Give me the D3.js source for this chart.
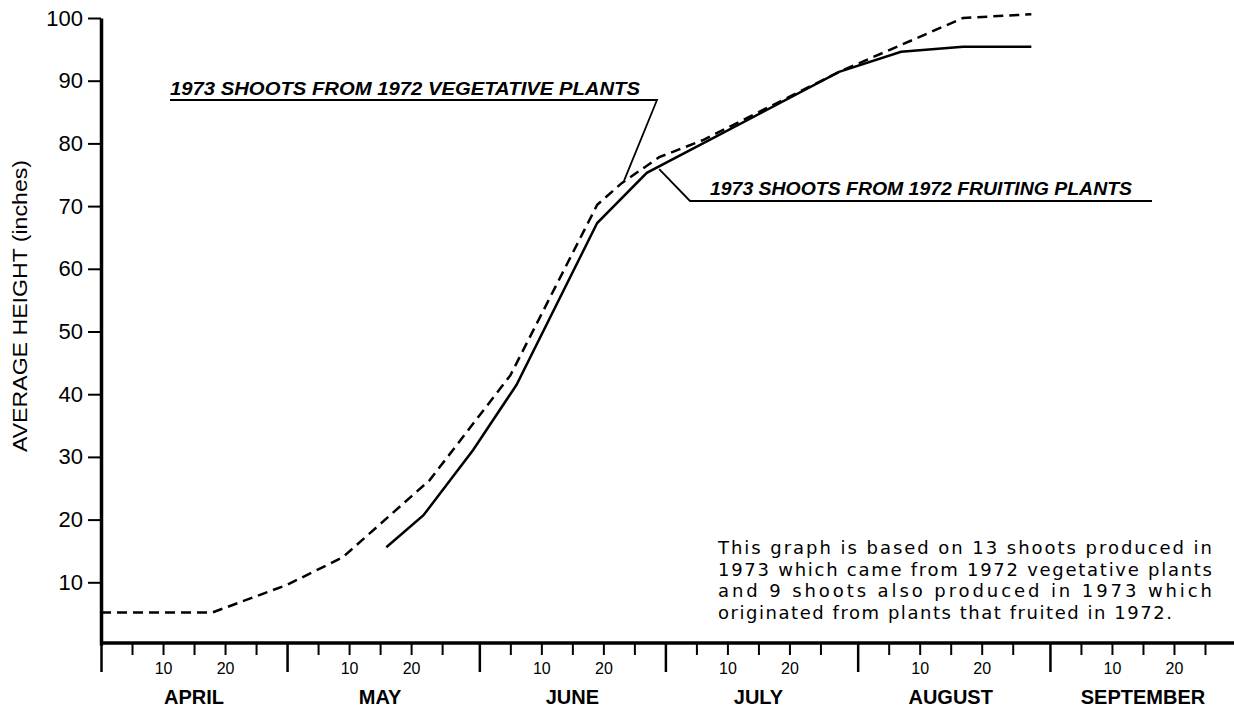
<!DOCTYPE html>
<html>
<head>
<meta charset="utf-8">
<script src="https://cdn.jsdelivr.net/npm/d3@7"></script>
<style>
  body { margin: 0; background: #fff; }
  svg { display: block; }
  text { font-family: "Liberation Sans", Arial, sans-serif; fill: #000; }
</style>
</head>
<body>
<div class="chart"></div>
<script>
// tick labels and categories
const months = ["APRIL", "MAY", "JUNE", "JULY", "AUGUST", "SEPTEMBER"];
const monthStarts = ["1973-04-01", "1973-05-01", "1973-06-01", "1973-07-01", "1973-08-01", "1973-09-01"];
const heightTicks = [10, 20, 30, 40, 50, 60, 70, 80, 90, 100];

// 1973 shoots from 1972 vegetative plants (dashed)
const vegDates = ["1973-04-01", "1973-04-19", "1973-05-01", "1973-05-10", "1973-05-24", "1973-06-06",
                  "1973-06-20", "1973-06-24", "1973-06-30", "1973-07-07", "1973-07-29", "1973-08-18", "1973-08-29"];
const vegHeights = [5.2, 5.2, 9.6, 14.0, 26.3, 43.0, 70.2, 73.7, 77.8, 80.5, 91.4, 100.0, 100.6];

// 1973 shoots from 1972 fruiting plants (solid)
const fruitDates = ["1973-05-17", "1973-05-23", "1973-05-31", "1973-06-07", "1973-06-20", "1973-06-28",
                    "1973-07-29", "1973-08-08", "1973-08-18", "1973-08-29"];
const fruitHeights = [15.6, 20.7, 31.1, 41.5, 67.3, 75.3, 91.4, 94.6, 95.4, 95.4];

const noteLines = [
    "This graph is based on 13 shoots produced in",
    "1973 which came from 1972 vegetative plants",
    "and 9 shoots also produced in 1973 which",
    "originated from plants that fruited in 1972."
];

const parseDate = d3.timeParse("%Y-%m-%d");

const vegData = vegDates.map((d, i) => ({date: parseDate(d), h: vegHeights[i]}));
const fruitData = fruitDates.map((d, i) => ({date: parseDate(d), h: fruitHeights[i]}));

var width = 1234, height = 708;

var svg = d3.select(".chart")
    .append("svg")
    .attr("width", width)
    .attr("height", height);

var x = d3.scaleTime()
    .domain([parseDate("1973-04-01"), parseDate("1973-10-01")])
    .range([101, 1236]);

var y = d3.scaleLinear()
    .domain([0, 100])
    .range([645, 18]);

var axisY = 643;

// minor ticks every 5 days inside each month
let minorTicks = [];
monthStarts.forEach(m => {
    const start = parseDate(m);
    for (let k = 1; k <= 5; k++) minorTicks.push(d3.timeDay.offset(start, 5 * k));
});

// x axis: month boundaries
var xMajor = svg.append("g")
    .attr("transform", "translate(0," + axisY + ")")
    .call(d3.axisBottom(x)
        .tickValues(monthStarts.map(parseDate))
        .tickSize(29)
        .tickSizeOuter(0)
        .tickFormat(""));
xMajor.select(".domain")
    .attr("stroke-width", 3.5)
    .attr("d", "M101,0H1234");
xMajor.selectAll(".tick line").attr("stroke-width", 2.5);

// x axis: 5-day ticks, "10" and "20" labelled
var xMinor = svg.append("g")
    .attr("transform", "translate(0," + axisY + ")")
    .call(d3.axisBottom(x)
        .tickValues(minorTicks)
        .tickSize(12)
        .tickPadding(8)
        .tickFormat(d => {
            const day = d.getDate() - 1;
            return (day === 10 || day === 20) ? String(day) : "";
        }));
xMinor.select(".domain").remove();
xMinor.selectAll(".tick line").attr("stroke-width", 2);
xMinor.selectAll("text")
    .style("font-size", "16px")
    .style("font-family", "Liberation Sans, Arial, sans-serif");

// month names under the middle of each month
svg.append("g")
    .selectAll("text")
    .data(months)
    .enter()
    .append("text")
    .attr("x", (d, i) => x(d3.timeDay.offset(parseDate(monthStarts[i]), 15)))
    .attr("y", 704)
    .attr("text-anchor", "middle")
    .style("font-size", "20px")
    .style("font-weight", "bold")
    .text(d => d);

// y axis
var yAxis = svg.append("g")
    .attr("transform", "translate(101,0)")
    .call(d3.axisLeft(y)
        .tickValues(heightTicks)
        .tickSize(13)
        .tickSizeOuter(0)
        .tickPadding(5)
        .tickFormat(d3.format("d")));
yAxis.select(".domain").attr("stroke-width", 3.5);
yAxis.selectAll(".tick line").attr("stroke-width", 2);
yAxis.selectAll("text")
    .style("font-size", "22px")
    .style("font-family", "Liberation Sans, Arial, sans-serif");

svg.append("text")
    .attr("transform", "translate(27,306) rotate(-90)")
    .attr("text-anchor", "middle")
    .attr("textLength", 292)
    .attr("lengthAdjust", "spacingAndGlyphs")
    .style("font-size", "20px")
    .text("AVERAGE HEIGHT (inches)");

var line = d3.line()
    .x(d => x(d.date))
    .y(d => y(d.h));

svg.append("path")
    .datum(vegData)
    .attr("fill", "none")
    .attr("stroke", "#000")
    .attr("stroke-width", 2.5)
    .attr("stroke-dasharray", "10,6")
    .attr("d", line);

svg.append("path")
    .datum(fruitData)
    .attr("fill", "none")
    .attr("stroke", "#000")
    .attr("stroke-width", 2.5)
    .attr("d", line);

// series labels with leader lines to the curves
var vegAnchor = vegData[7];
svg.append("polyline")
    .attr("fill", "none")
    .attr("stroke", "#000")
    .attr("stroke-width", 1.8)
    .attr("points", [[170, 100], [657, 100], [x(vegAnchor.date) + 2, y(vegAnchor.h) - 2]].join(" "));
svg.append("text")
    .attr("x", 170)
    .attr("y", 95)
    .attr("textLength", 470)
    .attr("lengthAdjust", "spacingAndGlyphs")
    .style("font-size", "19px")
    .style("font-weight", "bold")
    .style("font-style", "italic")
    .text("1973 SHOOTS FROM 1972 VEGETATIVE PLANTS");

var fruitAnchor = {date: parseDate("1973-06-30"), h: 76.2};
svg.append("polyline")
    .attr("fill", "none")
    .attr("stroke", "#000")
    .attr("stroke-width", 1.8)
    .attr("points", [[x(fruitAnchor.date), y(fruitAnchor.h) + 2], [690, 201], [1152, 201]].join(" "));
svg.append("text")
    .attr("x", 710)
    .attr("y", 195)
    .attr("textLength", 422)
    .attr("lengthAdjust", "spacingAndGlyphs")
    .style("font-size", "19px")
    .style("font-weight", "bold")
    .style("font-style", "italic")
    .text("1973 SHOOTS FROM 1972 FRUITING PLANTS");

// note, justified except for the last line
svg.append("g")
    .selectAll("text")
    .data(noteLines)
    .enter()
    .append("text")
    .attr("x", 718)
    .attr("y", (d, i) => 554 + i * 21.5)
    .attr("textLength", (d, i) => i < 3 ? 494 : 454)
    .attr("lengthAdjust", "spacing")
    .style("font-family", "DejaVu Sans, sans-serif")
    .style("font-size", "18px")
    .text(d => d);
</script>
</body>
</html>
